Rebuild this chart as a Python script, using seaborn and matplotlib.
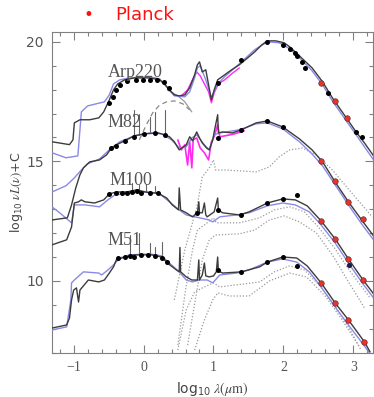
import numpy as np
import pandas as pd
import matplotlib
matplotlib.use("Agg")
import matplotlib.pyplot as plt
import seaborn as sns
from matplotlib.ticker import MultipleLocator, FixedLocator

# ---------------- data (log10 lambda [um], log10 nuL + C) ----------------
# Arp220
arp_x = [-1.31, -1.06, -1.01, -0.99, -0.91, -0.77, -0.64, -0.57, -0.49, -0.43, -0.37, -0.27, -0.13, 0.09, 0.23, 0.31, 0.37, 0.44, 0.51, 0.59, 0.66, 0.73, 0.77, 0.80, 0.84, 0.89, 0.93, 0.97, 1.01, 1.06, 1.16, 1.26, 1.37, 1.49, 1.59, 1.69, 1.77, 1.89, 2.01, 2.09, 2.23, 2.41, 2.56, 2.70, 2.90, 3.04, 3.16, 3.29]
arp_y = [15.82, 15.70, 15.90, 16.61, 16.74, 16.74, 16.82, 17.07, 17.57, 17.99, 18.24, 18.41, 18.49, 18.49, 18.41, 18.20, 17.99, 17.78, 17.74, 17.78, 18.08, 18.62, 19.04, 19.16, 18.74, 18.83, 18.20, 17.57, 17.99, 18.41, 18.62, 18.83, 19.04, 19.33, 19.58, 19.87, 20.04, 20.04, 19.96, 19.79, 19.41, 18.91, 18.33, 17.66, 16.82, 16.23, 15.77, 15.23]
arp_bx = [-1.31, -1.11, -0.94, -0.91, -0.89, -0.80, -0.56, -0.49, -0.43, -0.34, -0.20, 0.09, 0.23, 0.34, 0.44, 0.59, 0.66, 0.73, 0.77, 0.81, 0.89, 0.97, 1.06, 1.16, 1.37, 1.59, 1.77, 1.94, 2.09, 2.23, 2.41, 2.56, 2.70, 2.90, 3.04, 3.29]
arp_by = [15.36, 15.15, 15.23, 16.32, 17.07, 17.32, 17.49, 17.78, 18.24, 18.41, 18.49, 18.54, 18.45, 18.08, 17.74, 17.70, 17.91, 18.49, 18.91, 19.00, 18.41, 17.66, 18.24, 18.54, 19.08, 19.67, 20.00, 19.96, 19.71, 19.33, 18.79, 18.20, 17.53, 16.69, 16.11, 15.06]
arp_mx = [0.54, 0.63, 0.70, 0.76, 0.81, 0.87, 0.93, 0.97, 1.01, 1.07, 1.16, 1.26, 1.37]
arp_my = [17.74, 17.99, 18.41, 18.74, 18.58, 18.24, 17.91, 17.45, 17.87, 18.24, 18.41, 18.66, 18.91]
arp_dash_x = [-0.06, 0.04, 0.13, 0.23, 0.33, 0.44, 0.56, 0.66]
arp_dash_y = [15.90, 16.53, 17.03, 17.36, 17.49, 17.53, 17.41, 17.15]
arp_star_x = [0.34, 0.49, 0.59, 0.69]
arp_star_y = [17.99, 17.74, 17.49, 17.07]
arp_px = [-0.49, -0.44, -0.40, -0.34, -0.23, -0.11, -0.01, 0.09, 0.19, 0.29, 0.37, 1.06, 1.40, 1.77, 1.99, 2.09, 2.16, 2.20, 2.27, 2.31, 2.64, 3.04, 3.13]
arp_py = [17.45, 17.70, 17.99, 18.20, 18.37, 18.41, 18.41, 18.41, 18.41, 18.33, 18.08, 18.28, 19.25, 20.00, 19.87, 19.71, 19.54, 19.41, 19.16, 18.91, 17.87, 16.23, 16.03]
arp_rx = [2.54, 2.74, 2.91]
arp_ry = [18.28, 17.53, 16.82]

# M82
m82_x = [-1.31, -1.09, -1.03, -0.97, -0.91, -0.86, -0.77, -0.63, -0.53, -0.46, -0.39, -0.27, -0.13, 0.01, 0.21, 0.30, 0.37, 0.44, 0.51, 0.57, 0.61, 0.66, 0.70, 0.76, 0.80, 0.84, 0.90, 0.94, 0.99, 1.01, 1.06, 1.07, 1.13, 1.27, 1.40, 1.61, 1.77, 1.99, 2.23, 2.41, 2.56, 2.74, 2.93, 3.14, 3.29]
m82_y = [12.55, 12.64, 13.18, 13.89, 14.44, 14.73, 14.98, 15.06, 15.27, 15.56, 15.69, 15.86, 16.07, 16.15, 16.19, 16.11, 16.03, 15.82, 15.48, 15.61, 15.69, 16.03, 15.86, 16.23, 15.98, 15.77, 15.56, 15.48, 15.90, 16.23, 16.95, 16.19, 16.23, 16.19, 16.32, 16.61, 16.69, 16.44, 15.94, 15.48, 14.98, 14.14, 13.31, 12.47, 11.88]
m82_bx = [-1.31, -1.11, -0.99, -0.89, -0.80, -0.63, -0.49, -0.34, -0.13, 0.09, 0.26, 0.40, 0.51, 0.61, 0.69, 0.76, 0.87, 0.94, 1.01, 1.09, 1.37, 1.61, 1.77, 1.99, 2.23, 2.41, 2.56, 2.74, 2.93, 3.14, 3.29]
m82_by = [13.72, 13.98, 14.31, 14.64, 14.90, 15.10, 15.48, 15.82, 16.07, 16.19, 16.15, 15.90, 15.56, 15.61, 15.98, 16.11, 15.69, 15.48, 16.11, 16.19, 16.32, 16.57, 16.61, 16.36, 15.82, 15.31, 14.81, 14.02, 13.18, 12.30, 11.72]
m82_mx = [0.49, 0.54, 0.59, 0.63, 0.66, 0.69, 0.71, 0.76, 0.81, 0.87, 0.93, 0.97, 1.01, 1.06, 1.09, 1.17, 1.30, 1.44]
m82_my = [15.90, 15.48, 15.69, 14.85, 15.82, 14.73, 15.90, 15.98, 15.56, 15.36, 15.06, 15.82, 16.03, 16.53, 16.03, 16.07, 16.15, 16.28]
m82_dx = [0.44, 0.59, 0.69, 0.76, 0.84, 0.94, 1.00, 1.03, 1.16, 1.61, 1.80, 1.94, 2.09, 2.27, 2.47, 2.70, 2.94, 3.27]
m82_dy = [9.21, 11.30, 12.34, 13.05, 14.35, 14.73, 15.06, 14.64, 14.64, 14.56, 14.77, 15.19, 15.48, 15.56, 15.27, 14.64, 13.81, 12.68]
m82_px = [-0.46, -0.39, -0.27, -0.13, 0.01, 0.16, 0.30, 1.06, 1.40, 1.77, 1.99]
m82_py = [15.56, 15.65, 15.86, 16.03, 16.15, 16.19, 16.11, 15.98, 16.32, 16.69, 16.44]
m82_rx = [2.54, 2.74, 2.93, 3.14]
m82_ry = [15.02, 14.18, 13.31, 12.60]
m82_spk_x = [-0.13, -0.06, 0.09, 0.16, 0.30]
m82_spk_y = [17.15, 16.98, 16.86, 17.07, 17.15]

# M100
m100_x = [-1.31, -1.10, -1.03, -0.99, -0.93, -0.89, -0.84, -0.70, -0.57, -0.49, -0.39, -0.24, -0.10, 0.09, 0.20, 0.33, 0.41, 0.50, 0.51, 0.53, 0.61, 0.70, 0.77, 0.79, 0.80, 0.84, 0.87, 0.89, 0.91, 1.01, 1.06, 1.07, 1.13, 1.37, 1.51, 1.66, 1.77, 1.99, 2.17, 2.34, 2.54, 2.74, 2.93, 3.14, 3.29]
m100_y = [11.51, 11.72, 12.26, 13.26, 13.31, 13.39, 13.31, 13.26, 13.39, 13.64, 13.72, 13.72, 13.81, 13.68, 13.68, 13.47, 13.18, 12.97, 13.89, 12.97, 12.85, 12.68, 12.85, 13.31, 12.85, 12.85, 13.26, 12.76, 12.68, 12.89, 13.47, 12.97, 12.85, 12.76, 12.89, 13.10, 13.26, 13.43, 13.39, 13.14, 12.51, 11.76, 10.92, 10.04, 9.46]
m100_bx = [-1.31, -1.20, -1.03, -0.99, -0.84, -0.63, -0.51, -0.41, -0.20, 0.09, 0.23, 0.37, 0.51, 0.61, 0.80, 0.94, 0.99, 1.09, 1.33, 1.51, 1.77, 1.99, 2.17, 2.37, 2.54, 2.74, 2.94, 3.14, 3.29]
m100_by = [13.10, 12.85, 12.43, 13.18, 13.18, 13.10, 13.39, 13.60, 13.68, 13.72, 13.64, 13.31, 12.97, 12.76, 12.64, 12.55, 12.47, 12.68, 12.76, 12.85, 13.14, 13.26, 13.18, 12.89, 12.34, 11.59, 10.71, 9.87, 9.29]
m100_d1x = [0.49, 0.60, 0.70, 0.77, 0.87, 1.00, 1.04, 1.37, 1.66, 1.87, 2.09, 2.30, 2.51, 2.73, 2.94, 3.23]
m100_d1y = [7.32, 9.62, 11.30, 12.13, 12.34, 12.64, 12.43, 12.43, 12.64, 12.97, 13.10, 12.89, 12.22, 11.38, 10.46, 9.33]
m100_d2x = [0.63, 0.74, 0.84, 0.94, 1.03, 1.37, 1.59, 1.80, 2.01, 2.23, 2.47, 2.70, 2.94, 3.16]
m100_d2y = [7.32, 9.21, 10.88, 11.72, 11.92, 11.97, 12.13, 12.55, 12.72, 12.47, 12.01, 11.09, 9.92, 8.87]
m100_px = [-0.49, -0.39, -0.31, -0.24, -0.17, -0.10, -0.03, 0.09, 0.21, 0.77, 1.07, 1.40, 1.77, 1.99, 2.20]
m100_py = [13.64, 13.68, 13.68, 13.68, 13.72, 13.77, 13.68, 13.68, 13.68, 12.85, 12.97, 12.76, 13.26, 13.43, 13.60]
m100_rx = [2.54, 2.74, 2.93, 3.14]
m100_ry = [12.51, 11.76, 10.92, 10.04]
m100_bluedot_x = [2.94]
m100_bluedot_y = [10.67]
m100_spk_x = [-0.17, -0.06, 0.04, 0.16]
m100_spk_y = [14.10, 14.02, 14.06, 13.98]

# M51
m51_x = [-1.31, -1.10, -1.06, -1.03, -1.00, -0.96, -0.93, -0.91, -0.79, -0.64, -0.56, -0.49, -0.43, -0.39, -0.27, -0.13, 0.11, 0.26, 0.34, 0.47, 0.51, 0.52, 0.53, 0.61, 0.69, 0.77, 0.79, 0.80, 0.84, 0.87, 0.89, 0.94, 1.00, 1.04, 1.06, 1.07, 1.13, 1.40, 1.66, 1.77, 1.99, 2.19, 2.34, 2.54, 2.74, 2.93, 3.16, 3.24]
m51_y = [8.03, 8.16, 8.45, 9.21, 9.62, 9.71, 9.12, 9.62, 10.04, 9.96, 10.04, 10.33, 10.59, 10.88, 11.00, 11.09, 11.09, 11.00, 10.75, 10.46, 10.38, 11.40, 10.38, 10.17, 10.04, 10.04, 10.88, 10.04, 10.25, 10.75, 10.21, 10.17, 10.21, 10.38, 11.00, 10.42, 10.33, 10.38, 10.59, 10.79, 11.00, 10.96, 10.63, 9.92, 9.08, 8.37, 7.45, 7.03]
m51_bx = [-1.31, -1.10, -1.04, -1.03, -0.99, -0.86, -0.64, -0.60, -0.51, -0.43, -0.34, -0.20, 0.09, 0.26, 0.37, 0.51, 0.61, 0.70, 0.80, 0.91, 0.99, 1.09, 1.33, 1.51, 1.77, 1.99, 2.19, 2.37, 2.54, 2.74, 2.94, 3.16, 3.23]
m51_by = [7.95, 8.08, 9.21, 9.92, 10.04, 10.38, 10.33, 10.25, 10.46, 10.67, 10.96, 11.09, 11.13, 11.05, 10.75, 10.38, 10.04, 9.96, 10.04, 10.04, 9.92, 10.25, 10.33, 10.46, 10.79, 10.92, 10.79, 10.38, 9.75, 8.91, 8.12, 7.28, 6.99]
m51_d1x = [0.73, 0.87, 0.99, 1.06, 1.23, 1.51, 1.80, 2.09, 2.33, 2.61, 2.84, 3.09]
m51_d1y = [7.11, 8.37, 9.21, 9.50, 9.37, 9.37, 10.00, 10.33, 10.17, 9.33, 8.37, 7.24]
m51_d2x = [0.49, 0.61, 0.73, 0.87, 1.00, 1.09, 1.66, 1.87, 2.09, 2.30, 2.51, 2.73, 2.94, 3.11]
m51_d2y = [7.11, 8.79, 9.54, 9.75, 9.92, 9.75, 9.96, 10.38, 10.63, 10.46, 9.83, 9.00, 8.03, 7.11]
m51_px = [-0.37, -0.27, -0.20, -0.13, -0.03, 0.06, 0.16, 0.26, 0.33, 1.07, 1.40, 1.77, 1.99, 2.20]
m51_py = [10.96, 11.00, 11.05, 11.00, 11.09, 11.09, 11.05, 10.96, 10.79, 10.46, 10.38, 10.79, 11.00, 10.63]
m51_rx = [2.54, 2.74, 2.93, 3.16]
m51_ry = [9.92, 9.08, 8.37, 7.45]
m51_spk_x = [-0.20, -0.06, 0.09, 0.16, 0.27]
m51_spk_y = [11.92, 12.00, 11.59, 11.42, 11.63]

galaxy_names = ["Arp220", "M82", "M100", "M51"]
label_x = [-0.51, -0.51, -0.49, -0.51]
label_y = [18.54, 16.44, 14.02, 11.51]

x_ticks = [-1, 0, 1, 2, 3]
y_ticks = [10, 15, 20]

# ---------------- style ----------------
sns.set_theme(style="ticks")
plt.rcParams['font.family'] = ['DejaVu Sans']
plt.rcParams['mathtext.fontset'] = 'stix'

BLACK = "#3c3c3c"
BLUE = "#8a8ae6"
DOT = "#9a9a9a"
MAG = "#ff2bf0"
RED = "#e8332a"
AXC = "#808080"

fig = plt.figure(figsize=(3.74, 3.97), dpi=100)
ax = fig.add_axes([0.139, 0.111, 0.858, 0.809])


def line(x, y, color, lw=1.0, ls="-", alpha=1.0, z=2):
    sns.lineplot(x=x, y=y, sort=False, estimator=None, ax=ax, color=color,
                 linewidth=lw, linestyle=ls, alpha=alpha, zorder=z)


def spikes(xs, ys, base_x, base_y):
    for xv, yv in zip(xs, ys):
        yb = np.interp(xv, base_x, base_y)
        line([xv, xv], [yb, yv], color="#666666", lw=0.8, z=2)


# dotted components
for dx, dy in [(m82_dx, m82_dy), (m100_d1x, m100_d1y), (m100_d2x, m100_d2y),
               (m51_d1x, m51_d1y), (m51_d2x, m51_d2y)]:
    line(dx, dy, DOT, lw=0.9, ls=(0, (1, 1.5)), z=1)
line(arp_dash_x, arp_dash_y, "#888888", lw=0.9, ls=(0, (4, 3)), z=1)
line(arp_star_x, arp_star_y, "#9a9a9a", lw=0.9, z=1)

# magenta spectra
line(arp_mx, arp_my, MAG, lw=1.0, z=2)
line(m82_mx, m82_my, MAG, lw=1.2, z=2)

# models and observed
for (bx, by), (kx, ky) in [((arp_bx, arp_by), (arp_x, arp_y)),
                           ((m82_bx, m82_by), (m82_x, m82_y)),
                           ((m100_bx, m100_by), (m100_x, m100_y)),
                           ((m51_bx, m51_by), (m51_x, m51_y))]:
    line(bx, by, BLUE, lw=1.0, z=3)
    line(kx, ky, BLACK, lw=1.0, z=4)

spikes(m82_spk_x, m82_spk_y, m82_x, m82_y)
spikes(m100_spk_x, m100_spk_y, m100_x, m100_y)
spikes(m51_spk_x, m51_spk_y, m51_x, m51_y)

# points
for px, py in [(arp_px, arp_py), (m82_px, m82_py), (m100_px, m100_py), (m51_px, m51_py)]:
    sns.scatterplot(x=px, y=py, ax=ax, color="black", s=13, linewidth=0, zorder=6)
for rx, ry in [(arp_rx, arp_ry), (m82_rx, m82_ry), (m100_rx, m100_ry), (m51_rx, m51_ry)]:
    sns.scatterplot(x=rx, y=ry, ax=ax, color=RED, s=16, edgecolor="#552222",
                    linewidth=0.4, zorder=7)
sns.scatterplot(x=m100_bluedot_x, y=m100_bluedot_y, ax=ax, color="#1a1a5a", s=14,
                linewidth=0, zorder=7)

# galaxy labels
for name, lx, ly in zip(galaxy_names, label_x, label_y):
    ax.text(lx, ly, name, family="Liberation Serif", fontsize=13, color="#555555",
            ha="left", va="baseline", zorder=8)

# axes
ax.set_xlim(-1.31, 3.28)
ax.set_ylim(6.99, 20.42)
ax.xaxis.set_major_locator(FixedLocator(x_ticks))
ax.yaxis.set_major_locator(FixedLocator(y_ticks))
ax.xaxis.set_minor_locator(MultipleLocator(0.2))
ax.yaxis.set_minor_locator(MultipleLocator(1))
ax.tick_params(which="both", direction="in", top=True, right=True, color=AXC,
               width=0.8)
ax.tick_params(which="major", length=6)
ax.tick_params(which="minor", length=3)
ax.tick_params(axis="x", labelsize=10, labelcolor="#555555", pad=6)
ax.tick_params(axis="y", labelsize=10, labelcolor="#555555", pad=6)
ax.set_xticklabels(["\u22121", "0", "1", "2", "3"], family="Liberation Serif")
for s in ax.spines.values():
    s.set_color(AXC)
    s.set_linewidth(0.8)

ax.set_xlabel(r"$\mathregular{log_{10}}\ \lambda(\mu\mathrm{m})$", fontsize=10,
              color="#444444")
ax.xaxis.set_label_coords(0.5, -0.085)
ax.set_ylabel(r"$\mathregular{log_{10}}\ \nu L(\nu)\mathregular{+C}$", fontsize=9,
              color="#444444")
ax.yaxis.set_label_coords(-0.085, 0.5)

fig.text(88 / 374, 1 - 15 / 397, "\u2022", color="#ff1010", fontsize=12,
         ha="center", va="center")
fig.text(115 / 374, 1 - 15 / 397, "Planck", color="#ff1010", fontsize=13,
         ha="left", va="center")

fig.savefig("out.png", dpi=100)
